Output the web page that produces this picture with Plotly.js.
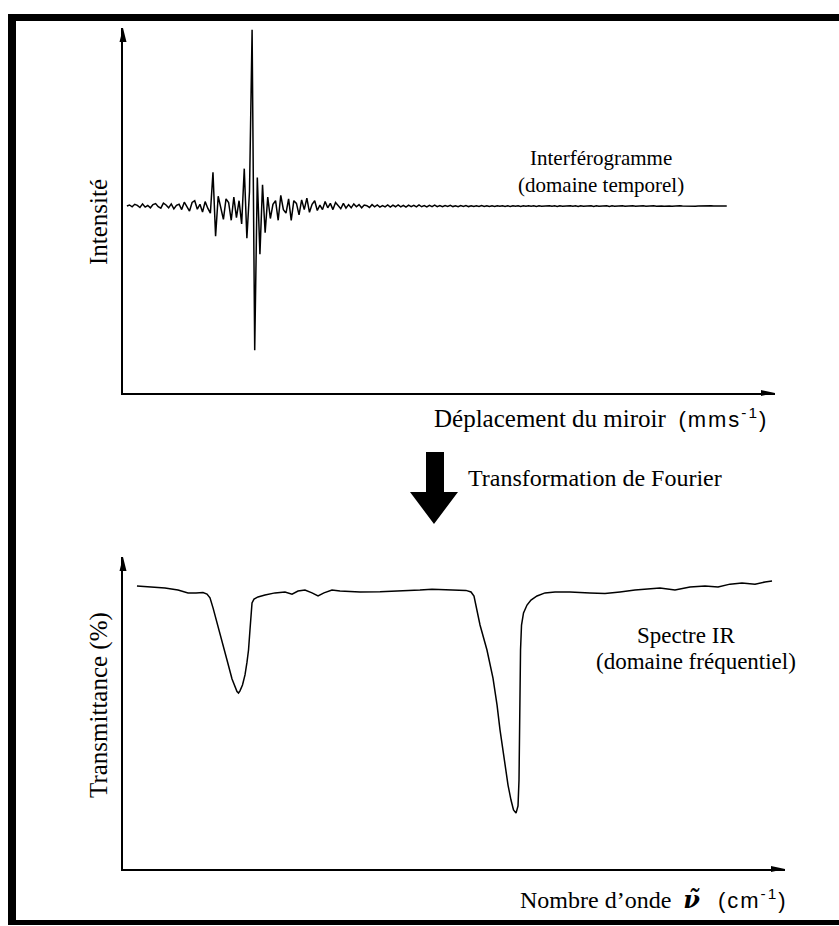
<!DOCTYPE html>
<html>
<head>
<meta charset="utf-8">
<script src="https://cdn.plot.ly/plotly-3.0.1.min.js"></script>
<style>
  html, body { margin: 0; padding: 0; background: #fff; }
  #fig { width: 839px; height: 926px; }
</style>
</head>
<body>
<div id="fig"></div>
<script>
const W = 839, H = 926;

// ---- Interferogram: intensity sampled along the mirror travel (arbitrary units)
const displacementStart = 0.6;
const displacementStep = 0.4;
const intensity = [
  0, 0.006, -0.004, 0.01, 0.004, -0.008, 0.012, -0.006, 0.003, -0.01, 0.008,
  0.014, -0.004, -0.012, 0.016, 0.006, -0.01, 0.012, -0.016, 0.004, 0.01,
  -0.02, 0.022, -0.006, -0.028, 0.02, 0.03, -0.018, 0.01, -0.034, 0.025, -0.012, -0.04,
  0.19, -0.17,
  0.055, -0.02, -0.075, 0.04, 0.02, -0.08, 0.05, -0.065, 0.03, -0.1,
  0.21, -0.18,
  0.08, 0.99, -0.81, 0.16, -0.27, 0.12, -0.15,
  0.05, -0.07, 0.01, 0.03, -0.08, 0.06, -0.02, -0.04, 0.04, -0.08, 0.03, 0.015, -0.05, 0.035, -0.02, 0.045, -0.035,
  0.01, 0.03, -0.025, 0.005, -0.02, 0.025, -0.01, 0.015, -0.02, 0.02, 0.005, -0.015, 0.015, -0.012, 0.008,
  -0.01, 0.012, -0.004, 0.008, -0.01, 0.006, 0.002, -0.008, 0.008, -0.004, 0.006, -0.006, 0.003, -0.005, 0.006,
  -0.006, 0.005, -0.004, 0.006, -0.005, 0.004, -0.006, 0.005, -0.003, 0.004,
  -0.005, 0.006, -0.004, 0.003, -0.005, 0.004, -0.003, 0.005, -0.004, 0.003,
  -0.004, 0.003, -0.002, 0.004, -0.003, 0.002, -0.004, 0.003, -0.002, 0.003,
  -0.003, 0.002, -0.003, 0.002, -0.002, 0.003, -0.002, 0.002, -0.003, 0.002,
  -0.002, 0.002, -0.001, 0.002, -0.002, 0.001, -0.002, 0.002, -0.001, 0.002,
  -0.002, 0.001, -0.001, 0.002, -0.001, 0.001, -0.002, 0.001, -0.001, 0.001,
  -0.001, 0.002, -0.001, 0.001, -0.002, 0.001, -0.001, 0.001, -0.001, 0.002,
  -0.001, 0.001, -0.002, 0.001, -0.001, 0.001, -0.001, 0.001, -0.002, 0.001,
  -0.001, 0.001, -0.001, 0.001, -0.002, 0.001, -0.001, 0.001, -0.001, 0.001,
  -0.001, 0.001, -0.001, 0.001, -0.001, 0.001, -0.001, 0.001, -0.001, 0.001,
  0, 0.001, -0.001, 0.001, 0, -0.001, 0.001, 0, -0.001, 0.001,
  0, 0.001, 0, -0.001, 0, 0.001, 0, -0.001, 0, 0.001,
  0, -0.001, 0, 0.001, 0, -0.001, 0, 0.001, 0, 0
];
const displacement = intensity.map((_, i) => displacementStart + i * displacementStep);

// ---- IR spectrum: transmittance (%) against wavenumber (arbitrary units)
const wavenumber = [
  2.11, 4.08, 6.34, 8.31, 9.82, 11.03, 12.08, 12.69, 13.14, 13.6,
  14.65, 15.71, 16.47, 16.92, 17.22, 17.45, 17.67, 18.05, 18.43, 18.73,
  18.96, 19.18, 19.34, 19.49, 19.79, 20.39, 21.45, 22.96, 24.47, 25.53,
  26.44, 27.49, 28.55, 29.46, 30.36, 31.57, 32.78, 35.8, 38.82, 41.84,
  44.86, 46.68, 48.64, 50.15, 51.81, 52.57, 53.02, 53.93, 54.98, 55.89,
  56.5, 56.95, 57.55, 58.16, 58.61, 58.99, 59.37, 59.67, 59.82, 59.89,
  59.97, 60.05, 60.2, 60.5, 61.03, 61.63, 62.54, 63.75, 65.26, 67.52,
  70.54, 72.81, 75.08, 77.34, 81.12, 83.38, 85.65, 87.92, 89.88, 91.69,
  93.5, 95.47, 96.98, 98.04
];
const transmittance = [
  90.7, 90.4, 90.06, 89.4, 88.5, 88.5, 88.6, 88.1, 86.9, 83.7,
  75.0, 67.0, 60.9, 58.3, 56.9, 56.4, 57.1, 59.0, 62.2, 66.3,
  70.2, 76.6, 82.4, 85.3, 86.5, 87.2, 87.8, 88.5, 88.8, 88.1,
  89.1, 89.4, 88.5, 87.5, 88.5, 89.4, 89.1, 88.8, 88.9, 89.1,
  89.4, 89.7, 89.6, 89.4, 89.3, 88.8, 87.5, 78.2, 70.2, 61.2,
  52.6, 44.6, 35.6, 26.9, 22.1, 18.9, 17.9, 20.2, 28.5, 41.3,
  57.4, 70.2, 78.2, 82.1, 84.6, 86.2, 87.5, 88.5, 88.8, 88.8,
  88.5, 88.3, 88.8, 89.4, 90.1, 89.4, 90.4, 90.7, 90.4, 91.3,
  91.7, 91.3, 92.0, 92.3
];

// ---- Text
const SANS_SPAN = '<span style="font-family:Liberation Sans;font-size:22px;letter-spacing:2px">';
const NU_SPAN = '<span style="font-family:DejaVu Serif">';
const topTitle = ['Interférogramme', '(domaine temporel)'];
const topYTitle = 'Intensité';
const topXTitle = 'Déplacement du miroir  ' + SANS_SPAN + '(mms<sup>-1</sup>)</span>';
const transformLabel = 'Transformation de Fourier';
const bottomTitle = ['Spectre IR', '(domaine fréquentiel)'];
const bottomYTitle = 'Transmittance (%)';
const bottomXTitle = 'Nombre d’onde  ' + NU_SPAN + '<b><i>ν̃</i></b></span>   ' + SANS_SPAN + '(cm<sup>-1</sup>)</span>';

// pixel -> paper helpers for decoration
const fx = p => p / W;
const fy = p => 1 - p / H;
const pathOf = pts => 'M ' + pts.map(([x, y]) => fx(x).toFixed(5) + ',' + fy(y).toFixed(5)).join(' L ') + ' Z';

const SERIF = 'Liberation Serif, Times New Roman, serif';

function axis(domain, range, anchor) {
  return {
    domain, range, anchor,
    showline: true, linecolor: '#000', linewidth: 1.6,
    showgrid: false, zeroline: false, showticklabels: false, ticks: '',
    fixedrange: true
  };
}

function label(text, px, py, size, opts) {
  return Object.assign({
    text, x: fx(px), y: fy(py), xref: 'paper', yref: 'paper',
    showarrow: false, xanchor: 'center', yanchor: 'middle',
    font: { family: SERIF, size, color: '#000' }
  }, opts || {});
}

const arrowUp = (x, y) => pathOf([[x, y], [x + 3.5, y + 14], [x - 3.5, y + 14]]);
const arrowRight = (x, y) => pathOf([[x, y], [x - 14, y - 3], [x - 14, y + 3]]);

const shapes = [
  // frame
  { type: 'rect', xref: 'paper', yref: 'paper', x0: fx(8), x1: fx(839), y0: fy(21), y1: fy(14), fillcolor: '#000', line: { width: 0 } },
  { type: 'rect', xref: 'paper', yref: 'paper', x0: fx(8), x1: fx(16), y0: fy(925), y1: fy(14), fillcolor: '#000', line: { width: 0 } },
  { type: 'rect', xref: 'paper', yref: 'paper', x0: fx(8), x1: fx(839), y0: fy(925), y1: fy(920), fillcolor: '#000', line: { width: 0 } },
  // axis arrowheads
  { type: 'path', xref: 'paper', yref: 'paper', path: arrowUp(123, 28), fillcolor: '#000', line: { width: 0 } },
  { type: 'path', xref: 'paper', yref: 'paper', path: arrowRight(775, 393), fillcolor: '#000', line: { width: 0 } },
  { type: 'path', xref: 'paper', yref: 'paper', path: arrowUp(123, 557), fillcolor: '#000', line: { width: 0 } },
  { type: 'path', xref: 'paper', yref: 'paper', path: arrowRight(785, 869), fillcolor: '#000', line: { width: 0 } },
  // block arrow for the Fourier transform step
  { type: 'path', xref: 'paper', yref: 'paper', fillcolor: '#000', line: { width: 0 },
    path: pathOf([[426, 452], [444, 452], [444, 492], [458, 492], [434, 524], [410, 492], [426, 492]]) }
];

const annotations = [
  label(topTitle[0], 601, 158, 21),
  label(topTitle[1], 601, 185, 21),
  label(topYTitle, 99, 222, 25, { textangle: -90 }),
  label(topXTitle, 770, 418, 25, { xanchor: 'right' }),
  label(transformLabel, 466, 478, 24, { xanchor: 'left' }),
  label(bottomTitle[0], 686, 635, 23),
  label(bottomTitle[1], 696, 661, 23),
  label(bottomYTitle, 99, 705, 25, { textangle: -90 }),
  label(bottomXTitle, 790, 899, 24, { xanchor: 'right' })
];

const traces = [
  { x: displacement, y: intensity, xaxis: 'x', yaxis: 'y', mode: 'lines',
    line: { color: '#000', width: 1.5 }, hoverinfo: 'skip' },
  { x: wavenumber, y: transmittance, xaxis: 'x2', yaxis: 'y2', mode: 'lines',
    line: { color: '#000', width: 1.5 }, hoverinfo: 'skip' }
];

const layout = {
  width: W, height: H,
  margin: { l: 0, r: 0, t: 0, b: 0 },
  paper_bgcolor: '#fff', plot_bgcolor: '#fff',
  showlegend: false,
  xaxis: axis([fx(123), fx(775)], [0, 100], 'y'),
  yaxis: axis([fy(393), fy(28)], [-1.05, 1.0], 'x'),
  xaxis2: axis([fx(123), fx(785)], [0, 100], 'y2'),
  yaxis2: axis([fy(869), fy(557)], [0, 100], 'x2'),
  shapes, annotations
};

Plotly.newPlot('fig', traces, layout, { displayModeBar: false, staticPlot: true });
</script>
</body>
</html>
